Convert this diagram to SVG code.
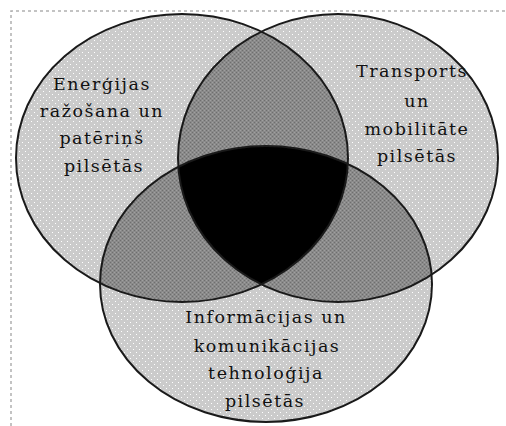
<svg xmlns="http://www.w3.org/2000/svg" width="506" height="426" viewBox="0 0 506 426">
<defs>
<pattern id="light" width="6" height="6" patternUnits="userSpaceOnUse">
<rect width="6" height="6" fill="#cbcbcb"/>
<rect x="1" y="1" width="1" height="1" fill="#ffffff"/>
<rect x="4" y="4" width="1" height="1" fill="#ffffff"/>
</pattern>
<pattern id="dark" width="4" height="4" patternUnits="userSpaceOnUse">
<rect width="4" height="4" fill="#8a8a8a"/>
<rect x="0" y="0" width="1" height="1" fill="#6e6e6e"/>
<rect x="2" y="2" width="1" height="1" fill="#6e6e6e"/>
<rect x="2" y="0" width="1" height="1" fill="#a0a0a0"/>
<rect x="0" y="2" width="1" height="1" fill="#a0a0a0"/>
</pattern>
<clipPath id="cA"><ellipse cx="182" cy="158" rx="166" ry="144"/></clipPath>
<clipPath id="cB"><ellipse cx="338" cy="158" rx="160" ry="144"/></clipPath>
<clipPath id="cC"><ellipse cx="266" cy="284" rx="166" ry="138"/></clipPath>
</defs>
<style>
.lbl{font-family:"DejaVu Serif","Liberation Serif",serif;font-size:17.5px;fill:#111;text-anchor:middle;letter-spacing:1.5px}
.edge{fill:none;stroke:#1a1a1a;stroke-width:2}
.frame{stroke:#b0b0b0;stroke-width:1.5;stroke-dasharray:3 3;fill:none}
</style>
<rect width="506" height="426" fill="#ffffff"/>
<path class="frame" d="M11 426 V11 H506"/>
<g id="fills">
<ellipse cx="182" cy="158" rx="166" ry="144" fill="url(#light)"/>
<ellipse cx="338" cy="158" rx="160" ry="144" fill="url(#light)"/>
<ellipse cx="266" cy="284" rx="166" ry="138" fill="url(#light)"/>
<g clip-path="url(#cA)"><ellipse cx="338" cy="158" rx="160" ry="144" fill="url(#dark)"/><ellipse cx="266" cy="284" rx="166" ry="138" fill="url(#dark)"/></g>
<g clip-path="url(#cB)"><ellipse cx="266" cy="284" rx="166" ry="138" fill="url(#dark)"/></g>
<g clip-path="url(#cA)"><g clip-path="url(#cB)"><ellipse cx="266" cy="284" rx="166" ry="138" fill="#000000"/></g></g>
</g>
<g id="connectors"></g>
<g id="node-energy">
<ellipse class="edge" cx="182" cy="158" rx="166" ry="144"/>
<text class="lbl" x="102" y="90">Enerģijas</text>
<text class="lbl" x="102" y="117">ražošana un</text>
<text class="lbl" x="102" y="144">patēriņš</text>
<text class="lbl" x="104" y="172">pilsētās</text>
</g>
<g id="node-transport">
<ellipse class="edge" cx="338" cy="158" rx="160" ry="144"/>
<text class="lbl" x="412" y="77">Transports</text>
<text class="lbl" x="417" y="107">un</text>
<text class="lbl" x="417" y="135">mobilitāte</text>
<text class="lbl" x="417" y="162">pilsētās</text>
</g>
<g id="node-ict">
<ellipse class="edge" cx="266" cy="284" rx="166" ry="138"/>
<text class="lbl" x="266" y="323">Informācijas un</text>
<text class="lbl" x="267" y="352">komunikācijas</text>
<text class="lbl" x="266" y="379">tehnoloģija</text>
<text class="lbl" x="265" y="407">pilsētās</text>
</g>
</svg>
